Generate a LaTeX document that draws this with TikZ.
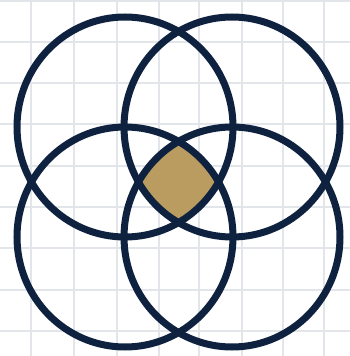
\documentclass[tikz,border=0pt]{standalone}
\usepackage{xcolor}
\usepackage{tikz}

\definecolor{ringnavy}{RGB}{14,34,64}
\definecolor{lensgold}{RGB}{186,156,96}
\definecolor{gridgray}{RGB}{226,229,234}

\begin{document}
\begin{tikzpicture}[
  x=1pt,y=-1pt,
  ring/.style={draw=ringnavy,line width=7pt},
  gridline/.style={draw=gridgray,line width=1.5pt},
  lens/.style={fill=lensgold}
]
\useasboundingbox (0,0) rectangle (350,356);
\fill[white] (0,0) rectangle (350,356);
% grid
\foreach \gx in {31,74,117,159,199,242,283,324}
  \draw[gridline] (\gx,0) -- (\gx,356);
\foreach \gy in {1,42,83,124,166,207,248,290,331}
  \draw[gridline] (0,\gy) -- (350,\gy);
% centres
\coordinate (tl) at (125,127);
\coordinate (tr) at (232,127);
\coordinate (bl) at (125,237);
\coordinate (br) at (232,237);
% common part of the four rings
\begin{scope}
  \clip (tl) ellipse [x radius=108pt,y radius=110pt];
  \clip (tr) ellipse [x radius=108pt,y radius=110pt];
  \clip (bl) ellipse [x radius=108pt,y radius=110pt];
  \fill[lens] (br) ellipse [x radius=108pt,y radius=110pt];
\end{scope}
% rings
\foreach \c in {tl,tr,bl,br}
  \draw[ring] (\c) ellipse [x radius=108pt,y radius=110pt];
\end{tikzpicture}
\end{document}
